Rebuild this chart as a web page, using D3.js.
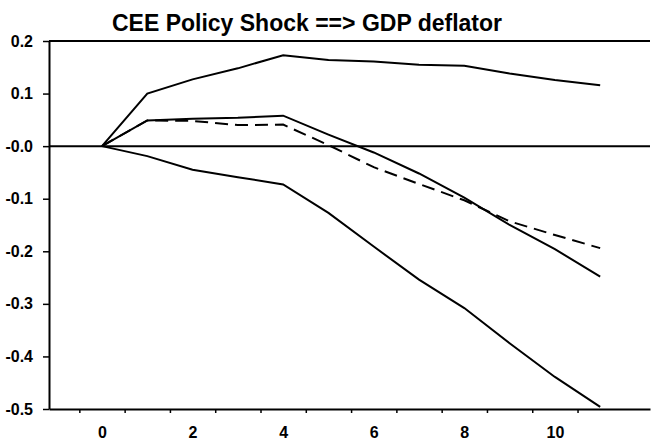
<!DOCTYPE html>
<html>
<head>
  <title>CEE Policy Shock ==> GDP deflator</title>
  <script src="https://d3js.org/d3.v7.min.js"></script>
  <style>
    body { margin: 0; background: #fff; }
    text { font-family: "Liberation Sans", Arial, Helvetica, sans-serif; font-weight: bold; fill: #000; }
  </style>
</head>
<body>
<div id="chart"></div>
<script>
  const width = 654;
  const height = 448;

  // horizon (quarters after the shock)
  const steps = [0, 1, 2, 3, 4, 5, 6, 7, 8, 9, 10, 11];
  const upperBand = [0, 0.100, 0.127, 0.148, 0.173, 0.164, 0.161, 0.155, 0.153, 0.138, 0.126, 0.116];
  const pointEstimate = [0, 0.049, 0.052, 0.054, 0.058, 0.022, -0.012, -0.052, -0.098, -0.150, -0.196, -0.248];
  const lowerBand = [0, -0.019, -0.045, -0.059, -0.073, -0.127, -0.191, -0.254, -0.308, -0.375, -0.439, -0.496];
  const dashedSeries = [0, 0.049, 0.048, 0.040, 0.041, 0.002, -0.040, -0.072, -0.103, -0.143, -0.169, -0.194];

  const yTicks = [0.2, 0.1, 0, -0.1, -0.2, -0.3, -0.4, -0.5];
  const yTickLabels = ["0.2", "0.1", "-0.0", "-0.1", "-0.2", "-0.3", "-0.4", "-0.5"];
  const xTickLabels = [0, 2, 4, 6, 8, 10];
  const xBoundaries = [-0.5, 0.5, 1.5, 2.5, 3.5, 4.5, 5.5, 6.5, 7.5, 8.5, 9.5, 10.5];

  const svg = d3.select("#chart")
          .append("svg")
          .attr("width", width)
          .attr("height", height);

  const x = d3.scaleLinear()
          .domain([-1.17, 12.1])
          .range([49, 650]);

  const y = d3.scaleLinear()
          .domain([-0.5, 0.2])
          .range([409, 41]);

  // title
  svg.append("text")
          .attr("x", 307)
          .attr("y", 31)
          .attr("text-anchor", "middle")
          .style("font-size", "23px")
          .text("CEE Policy Shock ==> GDP deflator");

  // top frame and zero line
  svg.append("line")
          .attr("x1", x.range()[0]).attr("x2", x.range()[1])
          .attr("y1", y(0.2)).attr("y2", y(0.2))
          .attr("stroke", "#000").attr("stroke-width", 2);

  svg.append("line")
          .attr("x1", x.range()[0]).attr("x2", x.range()[1])
          .attr("y1", y(0)).attr("y2", y(0))
          .attr("stroke", "#000").attr("stroke-width", 2);

  // y axis
  const yAxis = svg.append("g")
          .attr("transform", `translate(${x.range()[0]},0)`)
          .call(d3.axisLeft(y)
                  .tickValues(yTicks)
                  .tickFormat((d, i) => yTickLabels[i])
                  .tickSize(6)
                  .tickSizeOuter(0)
                  .tickPadding(10));

  // x axis: ticks between periods, labels on periods
  const xAxis = svg.append("g")
          .attr("transform", `translate(0,${y(-0.5)})`)
          .call(d3.axisBottom(x)
                  .tickValues(xBoundaries)
                  .tickFormat("")
                  .tickSize(4)
                  .tickSizeOuter(0));

  const xLabels = svg.append("g")
          .attr("transform", `translate(0,${y(-0.5)})`)
          .call(d3.axisBottom(x)
                  .tickValues(xTickLabels)
                  .tickSize(0)
                  .tickPadding(18));
  xLabels.select(".domain").remove();

  [yAxis, xAxis].forEach(g => {
    g.select(".domain").attr("stroke-width", 2);
    g.selectAll(".tick line").attr("stroke-width", 1.5);
  });
  svg.selectAll(".tick text")
          .style("font-size", "16px")
          .style("font-family", "'Liberation Sans', Arial, sans-serif")
          .style("font-weight", "bold");

  const line = d3.line()
          .x((d, i) => x(steps[i]))
          .y(d => y(d));

  const series = [
    {values: upperBand, dash: null},
    {values: pointEstimate, dash: null},
    {values: lowerBand, dash: null},
    {values: dashedSeries, dash: "13,7"}
  ];

  svg.selectAll(".series")
          .data(series)
          .enter()
          .append("path")
          .attr("class", "series")
          .attr("d", d => line(d.values))
          .attr("fill", "none")
          .attr("stroke", "#000")
          .attr("stroke-width", 2)
          .attr("stroke-dasharray", d => d.dash);
</script>
</body>
</html>
